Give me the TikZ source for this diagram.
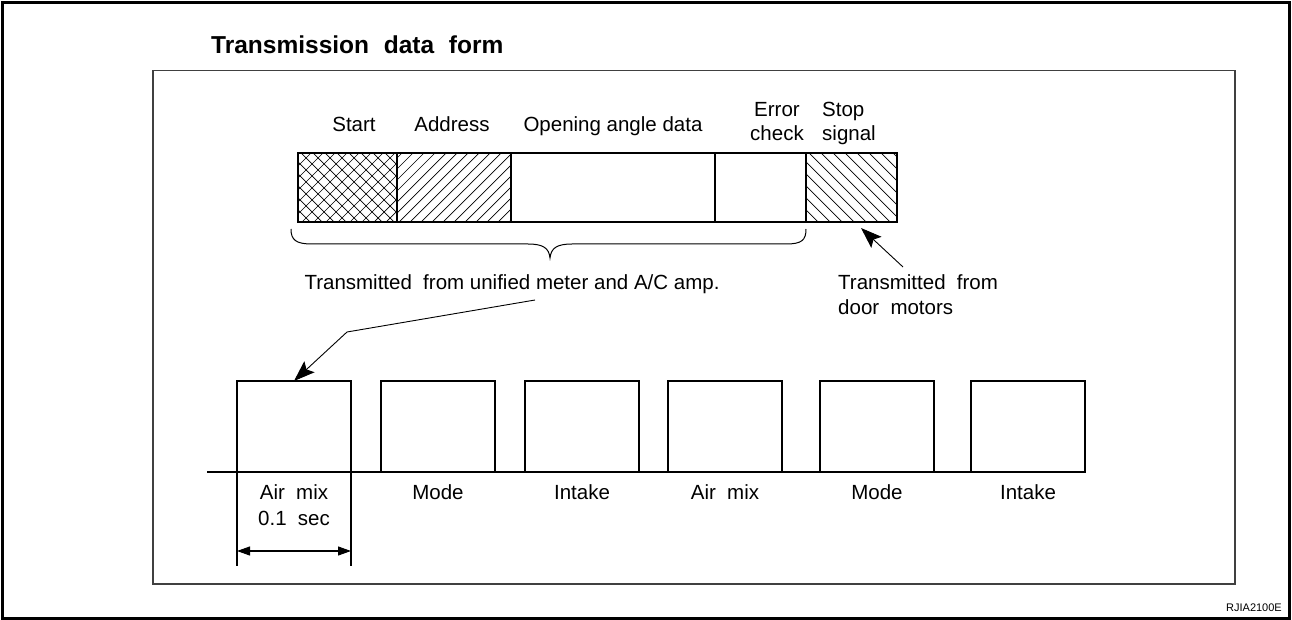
\documentclass[tikz,border=0pt]{standalone}
\usepackage{fontspec}
\setmainfont{Liberation Sans}
\usetikzlibrary{arrows.meta}
\newcommand{\wsp}{\hspace{0.55em}}
\begin{document}
\begin{tikzpicture}[x=1pt,y=-1pt,
  lab/.style={font=\fontsize{20.5}{24}\selectfont, inner sep=0pt, anchor=base},
  seg/.style={draw, line width=1.3pt, minimum height=69pt, inner sep=0pt, outer sep=0pt, anchor=north west},
  slot/.style={draw, line width=1.3pt, minimum width=114pt, minimum height=91pt, inner sep=0pt, outer sep=0pt, anchor=north west},
  arr/.style={line width=0.9pt, -{Stealth[length=21pt,width=15pt,inset=4pt]}},
  hatch/.style={line width=0.7pt},
  dim/.style={line width=1.1pt, {Triangle[length=13pt,width=9pt]}-{Triangle[length=13pt,width=9pt]}},
  frame/.style={line width=1.6pt, draw=black!75}
]
\useasboundingbox (0,0) rectangle (1292,620);
\draw[line width=3pt] (2.5,3) rectangle (1289.5,618.5);
\draw[frame] (153,70.5) rectangle (1235,584);
\node[font=\bfseries\fontsize{24.5}{28}\selectfont, inner sep=0pt, anchor=base west] (title) at (211,54) {Transmission\hspace{0.6em}data\hspace{0.6em}form};

% hatching
\begin{scope}
\clip (298,153) rectangle (397,222);
\foreach \i in {0,12,...,192} {
  \draw[hatch] (218+\i,222) -- ++(80,-80);
  \draw[hatch] (298+\i,222) -- ++(-80,-80);
}
\end{scope}
\begin{scope}
\clip (397,153) rectangle (511,222);
\foreach \i in {0,11,...,198} {\draw[hatch] (322+\i,222) -- ++(75,-75);}
\end{scope}
\begin{scope}
\clip (806,153) rectangle (897,222);
\foreach \i in {0,12,...,180} {\draw[hatch] (806+\i,222) -- ++(-75,-75);}
\end{scope}

% data bar segments
\node[seg, minimum width=99pt] (sStart) at (298,153) {};
\node[seg, minimum width=114pt] (sAddr) at (397,153) {};
\node[seg, minimum width=204pt] (sOpen) at (511,153) {};
\node[seg, minimum width=91pt] (sErr) at (715,153) {};
\node[seg, minimum width=91pt] (sStop) at (806,153) {};

% top labels
\node[lab] (lStart) at (354,132) {Start};
\node[lab] (lAddr) at (452,132) {Address};
\node[lab] (lOpen) at (613,132) {Opening angle data};
\node[lab, align=center] (lErr) at (777,141) {Error\\check};
\node[lab, align=left, anchor=base west] (lStop) at (822,141) {Stop\\signal};

% brace
\draw[line width=1pt] (291,229) .. controls (291,240) and (296,244) .. (312,244) -- (528,244)
  .. controls (543,244) and (549,248) .. (550,258)
  .. controls (551,248) and (557,244) .. (572,244) -- (786,244)
  .. controls (802,244) and (806,240) .. (806,229);

\node[lab] (tx1) at (512,289) {Transmitted\wsp from unified meter and A/C amp.};
\node[lab, align=left, anchor=base west] (tx2) at (838,314) {Transmitted\wsp from\\[1pt]door\wsp motors};

% lower slots
\draw[line width=1.3pt] (207,472) -- (1085,472);
\node[slot] (b1) at (237,381) {};
\node[slot] (b2) at (381,381) {};
\node[slot] (b3) at (525,381) {};
\node[slot] (b4) at (668,381) {};
\node[slot] (b5) at (820,381) {};
\node[slot] (b6) at (971,381) {};

\node[lab, align=center] (l1) at (294,525) {Air\wsp mix\\[2pt]0.1\wsp sec};
\node[lab] (l2) at (b2.south |- 0,499) {Mode};
\node[lab] (l3) at (b3.south |- 0,499) {Intake};
\node[lab] (l4) at (b4.south |- 0,499) {Air\wsp mix};
\node[lab] (l5) at (b5.south |- 0,499) {Mode};
\node[lab] (l6) at (b6.south |- 0,499) {Intake};

% dimension
\draw[line width=1.1pt] (b1.south west) -- ++(0,94);
\draw[line width=1.1pt] (b1.south east) -- ++(0,94);
\coordinate (d1) at (237,551);
\coordinate (d2) at (351,551);
\draw[dim] (d1) -- (d2);

% arrows
\coordinate (a1) at (535,300);
\coordinate (a2) at (347,332);
\draw[arr] (a1) -- (a2) -- (b1.north);
\coordinate (s1) at (903,267);
\coordinate (s2) at (861,228);
\draw[arr] (s1) -- (s2);

\node[font=\fontsize{11}{13}\selectfont, inner sep=0pt, anchor=base east] (code) at (1282,611) {RJIA2100E};
\end{tikzpicture}
\end{document}
